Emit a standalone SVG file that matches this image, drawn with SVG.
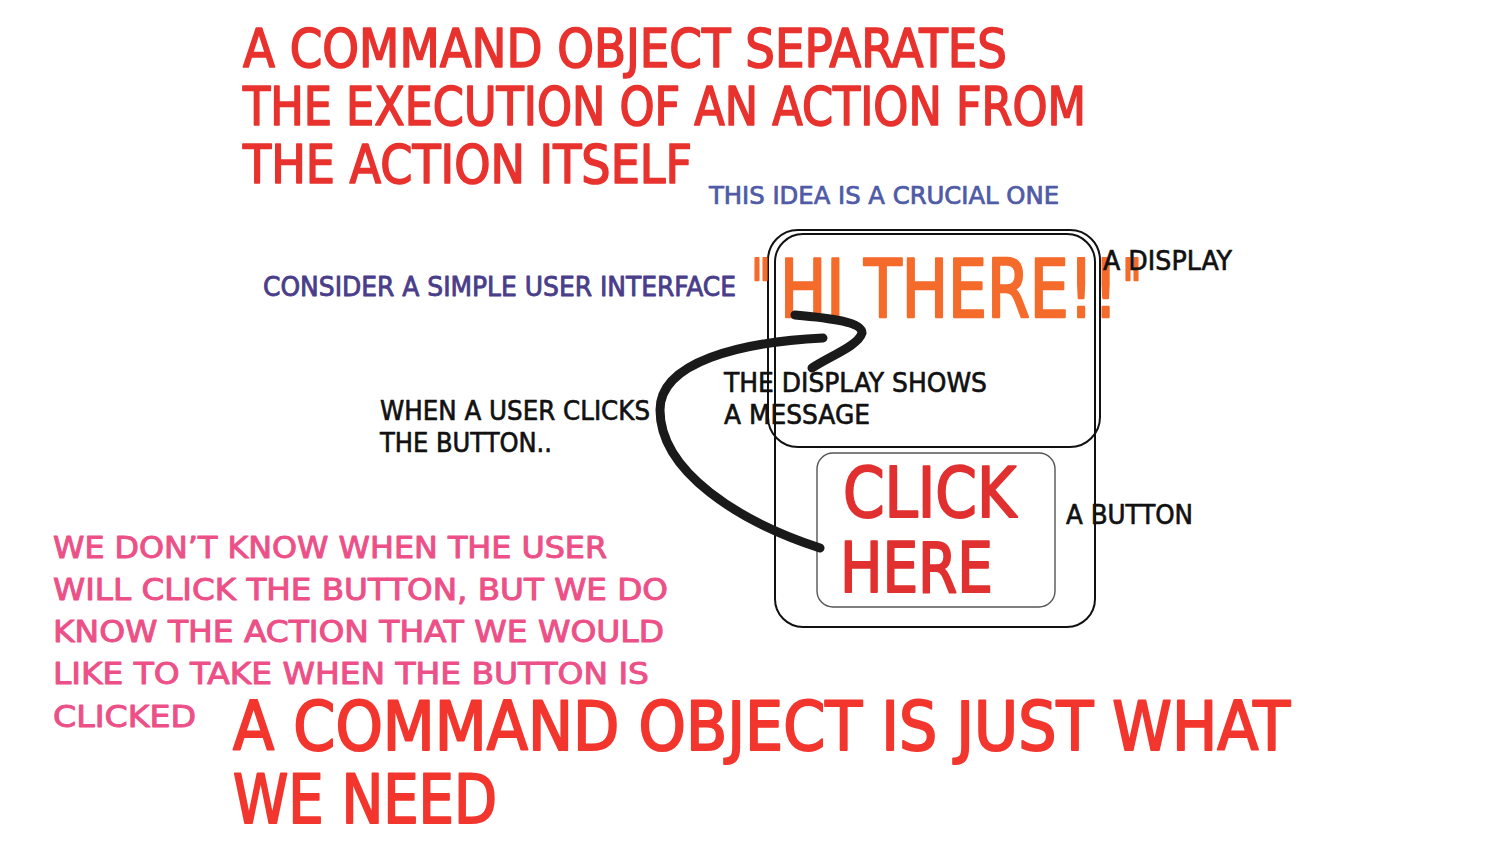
<svg xmlns="http://www.w3.org/2000/svg" width="1511" height="859" viewBox="0 0 1511 859">
<style>
text{font-family:"DejaVu Sans Condensed","DejaVu Sans",sans-serif;font-weight:normal;stroke-linejoin:round}
.title{fill:#e8322e;stroke:#e8322e;stroke-width:1.6px;font-size:53px}
.big{fill:#f2362e;stroke:#f2362e;stroke-width:2px;font-size:68px}
.pink{fill:#ec5087;stroke:#ec5087;stroke-width:0.9px;font-size:30px}
.blue{fill:#4f5ba6;stroke:#4f5ba6;stroke-width:0.7px;font-size:24px}
.purple{fill:#4a3d8a;stroke:#4a3d8a;stroke-width:0.8px;font-size:26px}
.lbl{fill:#111;stroke:#111;stroke-width:0.6px;font-size:26px}
.hi{fill:#f46b2b;stroke:#f46b2b;stroke-width:2.4px;font-size:81px}
.btn{fill:#e0302f;stroke:#e0302f;stroke-width:2px;font-size:70px}
.frame{fill:none;stroke:#111;stroke-width:2}
.bframe{fill:none;stroke:#555;stroke-width:1.4}
.arrow{fill:none;stroke:#1a1a1a;stroke-width:9;stroke-linecap:round}
</style>
<rect width="1511" height="859" fill="#fff"/>
<g id="heading">
<text class="title" x="243" y="67" textLength="764" lengthAdjust="spacingAndGlyphs">A COMMAND OBJECT SEPARATES</text>
<text class="title" x="243" y="125" textLength="843" lengthAdjust="spacingAndGlyphs">THE EXECUTION OF AN ACTION FROM</text>
<text class="title" x="243" y="183" textLength="449" lengthAdjust="spacingAndGlyphs">THE ACTION ITSELF</text>
</g>
<g id="note-crucial">
<text class="blue" x="709" y="204" textLength="350" lengthAdjust="spacingAndGlyphs">THIS IDEA IS A CRUCIAL ONE</text>
</g>
<g id="note-consider">
<text class="purple" x="263" y="296" textLength="473" lengthAdjust="spacingAndGlyphs">CONSIDER A SIMPLE USER INTERFACE</text>
</g>
<g id="device">
<rect class="frame" x="775" y="234" width="320" height="393" rx="28"/>
</g>
<g id="display">
<rect class="frame" x="768" y="230" width="332" height="217" rx="30"/>
<text class="hi" x="751" y="317" textLength="20" lengthAdjust="spacingAndGlyphs">"</text>
<text class="hi" x="780" y="317" textLength="338" lengthAdjust="spacingAndGlyphs">HI THERE!!</text>
<text class="hi" x="1122" y="317" textLength="20" lengthAdjust="spacingAndGlyphs">"</text>
</g>
<g id="button">
<rect class="bframe" x="817" y="453" width="238" height="154" rx="16"/>
<text class="btn" x="843" y="517" textLength="173" lengthAdjust="spacingAndGlyphs">CLICK</text>
<text class="btn" x="840" y="592" font-size="66" textLength="153" lengthAdjust="spacingAndGlyphs">HERE</text>
</g>
<g id="label-display">
<text class="lbl" x="1103" y="270" textLength="129" lengthAdjust="spacingAndGlyphs">A DISPLAY</text>
</g>
<g id="label-button">
<text class="lbl" x="1066" y="524" textLength="127" lengthAdjust="spacingAndGlyphs">A BUTTON</text>
</g>
<g id="label-shows">
<text class="lbl" x="724" y="392" textLength="263" lengthAdjust="spacingAndGlyphs">THE DISPLAY SHOWS</text>
<text class="lbl" x="724" y="424" textLength="146" lengthAdjust="spacingAndGlyphs">A MESSAGE</text>
</g>
<g id="label-clicks">
<text class="lbl" x="380" y="420" textLength="270" lengthAdjust="spacingAndGlyphs">WHEN A USER CLICKS</text>
<text class="lbl" x="380" y="452" textLength="172" lengthAdjust="spacingAndGlyphs">THE BUTTON..</text>
</g>
<g id="connectors">
<path class="arrow" d="M820,548 C740,522 660,472 660,410 C660,362 740,342 823,338"/>
<path class="arrow" d="M795,315 C830,318 862,322 862,333 C858,346 830,356 812,368"/>
</g>
<g id="note-pink">
<text class="pink" x="53" y="558" textLength="554" lengthAdjust="spacingAndGlyphs">WE DON’T KNOW WHEN THE USER</text>
<text class="pink" x="53" y="600" textLength="615" lengthAdjust="spacingAndGlyphs">WILL CLICK THE BUTTON, BUT WE DO</text>
<text class="pink" x="53" y="642" textLength="611" lengthAdjust="spacingAndGlyphs">KNOW THE ACTION THAT WE WOULD</text>
<text class="pink" x="53" y="684" textLength="596" lengthAdjust="spacingAndGlyphs">LIKE TO TAKE WHEN THE BUTTON IS</text>
<text class="pink" x="53" y="727" textLength="143" lengthAdjust="spacingAndGlyphs">CLICKED</text>
</g>
<g id="conclusion">
<text class="big" x="233" y="750" textLength="1057" lengthAdjust="spacingAndGlyphs">A COMMAND OBJECT IS JUST WHAT</text>
<text class="big" x="233" y="823" font-size="63" textLength="264" lengthAdjust="spacingAndGlyphs">WE NEED</text>
</g>
</svg>
